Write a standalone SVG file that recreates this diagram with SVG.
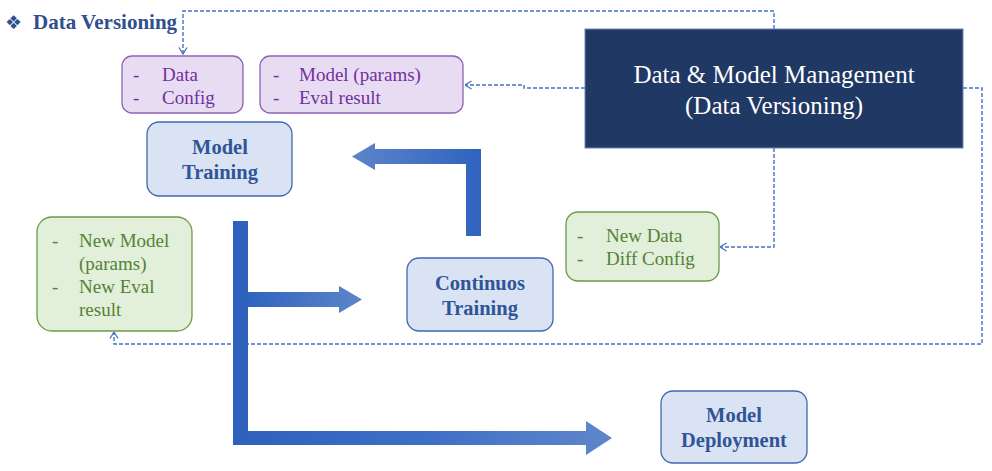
<svg xmlns="http://www.w3.org/2000/svg" width="992" height="471" viewBox="0 0 992 471">
<style>
.t{font-family:"Liberation Serif","Times New Roman",serif}
.list{font-size:19px}
.purp rect{fill:#E8DCF2;stroke:#8F62B8;stroke-width:1.3}
.purp text{fill:#7030A0}
.green rect{fill:#E2EFDA;stroke:#6B9A47;stroke-width:1.3}
.green text{fill:#548235}
.blue rect{fill:#DAE3F3;stroke:#4068B2;stroke-width:1.3}
.blue text{fill:#2F5597;font-weight:bold;font-size:20.5px;text-anchor:middle}
.dash{fill:none;stroke:#4472C4;stroke-width:1.4;stroke-dasharray:4 2;marker-end:url(#chev)}
</style>
<defs>
<marker id="chev" viewBox="0 0 8 10" refX="7.5" refY="5" markerWidth="8" markerHeight="10" markerUnits="userSpaceOnUse" orient="auto">
<path d="M1,1 L7.5,5 L1,9" fill="none" stroke="#4472C4" stroke-width="1.3"/>
</marker>
<linearGradient id="gR" gradientUnits="userSpaceOnUse" x1="233" y1="0" x2="612" y2="0">
<stop offset="0" stop-color="#2D61BC"/><stop offset="0.5" stop-color="#3D6FC6"/><stop offset="1" stop-color="#6086CB"/>
</linearGradient>
<linearGradient id="gB" gradientUnits="userSpaceOnUse" x1="248" y1="0" x2="362" y2="0">
<stop offset="0" stop-color="#3064BE"/><stop offset="1" stop-color="#5D84CA"/>
</linearGradient>
<linearGradient id="gU" gradientUnits="userSpaceOnUse" x1="481" y1="0" x2="352" y2="0">
<stop offset="0" stop-color="#2F63BE"/><stop offset="1" stop-color="#5D84CA"/>
</linearGradient>
</defs>
<rect width="992" height="471" fill="#FFFFFF"/>

<g id="title">
<text x="5" y="29" font-family="DejaVu Sans,sans-serif" font-size="19" fill="#2F4F8F">❖</text>
<text class="t" x="33" y="29" font-size="21" font-weight="bold" fill="#2F4F8F">Data Versioning</text>
</g>

<g id="connectors">
<path class="dash" d="M774,29 V11 H183 V54"/>
<path class="dash" d="M585,88 H524 V85 H465"/>
<path class="dash" d="M963,88 H982 V344 H114 V332"/>
<path class="dash" d="M774,148 V247 H720"/>
<polygon fill="url(#gR)" points="233,221 248,221 248,431 586,431 586,421 612,438 586,455 586,445 233,445"/>
<polygon fill="url(#gB)" points="248,292 339,292 339,286 362,299.5 339,313 339,307 248,307"/>
<polygon fill="url(#gU)" points="481,236 466,236 466,164 375,164 375,170 352,156.5 375,143 375,149 481,149"/>
</g>

<g id="dmm">
<rect x="585" y="29" width="378" height="119" fill="#203864" stroke="#6F86B0" stroke-width="1"/>
<text class="t" x="774" y="83" font-size="25" fill="#FFFFFF" text-anchor="middle">Data &amp; Model Management</text>
<text class="t" x="774" y="114" font-size="25" fill="#FFFFFF" text-anchor="middle">(Data Versioning)</text>
</g>

<g id="data-config" class="purp t list">
<rect x="122" y="56" width="121" height="57" rx="10"/>
<text x="133" y="81">-</text><text x="162" y="81">Data</text>
<text x="133" y="104">-</text><text x="162" y="104">Config</text>
</g>

<g id="model-eval" class="purp t list">
<rect x="260" y="56" width="203" height="57" rx="10"/>
<text x="273" y="81">-</text><text x="299" y="81">Model (params)</text>
<text x="273" y="104">-</text><text x="299" y="104">Eval result</text>
</g>

<g id="model-training" class="blue t">
<rect x="147" y="122" width="145" height="74" rx="12"/>
<text x="220" y="154">Model</text>
<text x="220" y="179">Training</text>
</g>

<g id="new-model" class="green t list">
<rect x="37" y="217" width="155" height="114" rx="15"/>
<text x="52" y="247">-</text><text x="79" y="247">New Model</text>
<text x="79" y="270">(params)</text>
<text x="52" y="293">-</text><text x="79" y="293">New Eval</text>
<text x="79" y="316">result</text>
</g>

<g id="continuous-training" class="blue t">
<rect x="407" y="258" width="146" height="73" rx="12"/>
<text x="480" y="290">Continuos</text>
<text x="480" y="315">Training</text>
</g>

<g id="new-data" class="green t list">
<rect x="566" y="212" width="153" height="69" rx="12"/>
<text x="577" y="242">-</text><text x="606" y="242">New Data</text>
<text x="577" y="265">-</text><text x="606" y="265">Diff Config</text>
</g>

<g id="model-deployment" class="blue t">
<rect x="661" y="391" width="146" height="72" rx="12"/>
<text x="734" y="422">Model</text>
<text x="734" y="447">Deployment</text>
</g>
</svg>
